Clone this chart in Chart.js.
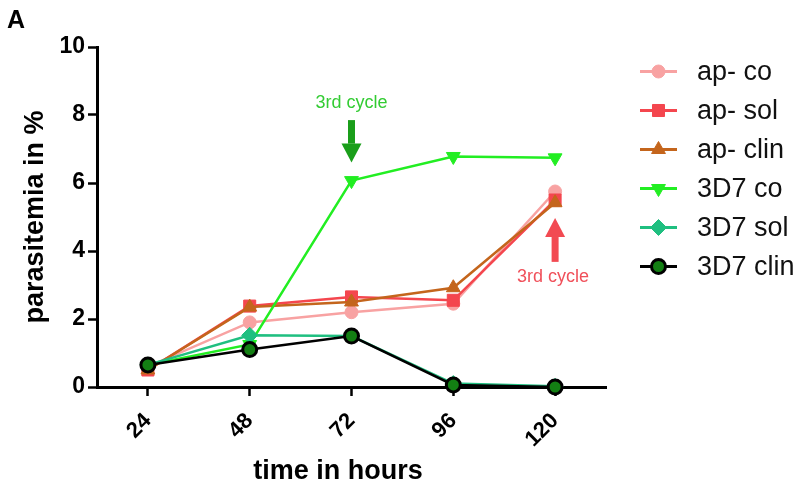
<!DOCTYPE html>
<html>
<head>
<meta charset="utf-8">
<script src="https://cdn.jsdelivr.net/npm/chart.js@4/dist/chart.umd.min.js"></script>
<style>
  html, body { margin: 0; padding: 0; background: #fff; }
  canvas { display: block; }
</style>
</head>
<body>
<canvas id="chart" width="798" height="490"></canvas>
<script>
const hours = [24, 48, 72, 96, 120];
const xTicks = [24, 48, 72, 96, 120];
const yTicks = [0, 2, 4, 6, 8, 10];

const apCo = [0.6, 1.9, 2.2, 2.45, 5.75];
const apSol = [0.5, 2.38, 2.65, 2.55, 5.5];
const apClin = [0.5, 2.35, 2.5, 2.92, 5.42];
const co3d7 = [0.65, 1.25, 6.07, 6.78, 6.74];
const sol3d7 = [0.65, 1.52, 1.5, 0.1, 0.02];
const clin3d7 = [0.65, 1.1, 1.5, 0.06, 0.0];

const seriesLabels = ['ap- co', 'ap- sol', 'ap- clin', '3D7 co', '3D7 sol', '3D7 clin'];

const FONT = '"Liberation Sans", Arial, Helvetica, sans-serif';

const pts = vals => hours.map((h, i) => ({ x: h, y: vals[i] }));

const styles = [
  { line: '#f8a2a2', fill: '#f8a2a2', edge: '#f8a2a2', shape: 'circle', r: 6.5, rot: 0, bw: 1 },
  { line: '#f4464e', fill: '#f4464e', edge: '#f4464e', shape: 'rect', r: 8.5, rot: 0, bw: 1 },
  { line: '#c4651c', fill: '#c4651c', edge: '#c4651c', shape: 'triangle', r: 8, rot: 0, bw: 1 },
  { line: '#22ee22', fill: '#22ee22', edge: '#22ee22', shape: 'triangle', r: 8, rot: 180, bw: 1 },
  { line: '#1fbf80', fill: '#1fbf80', edge: '#1fbf80', shape: 'rectRot', r: 8, rot: 0, bw: 1 },
  { line: '#000000', fill: '#137f13', edge: '#000000', shape: 'circle', r: 7, rot: 0, bw: 3 },
];

const values = [apCo, apSol, apClin, co3d7, sol3d7, clin3d7];

const datasets = values.map((v, i) => ({
  label: seriesLabels[i],
  data: pts(v),
  borderColor: styles[i].line,
  backgroundColor: styles[i].fill,
  pointBackgroundColor: styles[i].fill,
  pointBorderColor: styles[i].edge,
  pointBorderWidth: styles[i].bw,
  pointStyle: styles[i].shape,
  pointRotation: styles[i].rot,
  pointRadius: styles[i].r,
  borderWidth: 2.5,
  tension: 0,
  clip: false,
  order: i === 5 ? 0 : 6 - i,
}));

// annotation arrows, in data units
const notes = [
  { x: 72, textY: 8.35, from: 7.85, to: 6.6, color: '#33cc33', arrow: '#1a9e1a', text: '3rd cycle', dx: 0 },
  { x: 120, textY: 3.22, from: 3.68, to: 4.97, color: '#f0505a', arrow: '#f24a52', text: '3rd cycle', dx: -2 },
];

const extras = {
  id: 'extras',
  afterDraw(chart) {
    const ctx = chart.ctx;
    const xs = chart.scales.x, ys = chart.scales.y;
    ctx.save();

    // panel letter
    ctx.fillStyle = '#000';
    ctx.font = 'bold 25px ' + FONT;
    ctx.textAlign = 'left';
    ctx.textBaseline = 'alphabetic';
    ctx.fillText('A', 7, 28);

    // x title
    ctx.font = 'bold 27px ' + FONT;
    ctx.textAlign = 'center';
    ctx.textBaseline = 'middle';
    ctx.fillText('time in hours', 338, 472);

    // annotations
    for (const n of notes) {
      const px = xs.getPixelForValue(n.x);
      const y0 = ys.getPixelForValue(n.from);
      const y1 = ys.getPixelForValue(n.to);
      const dir = Math.sign(y1 - y0);
      const head = 19;
      ctx.fillStyle = n.arrow;
      ctx.fillRect(px - 3.5, Math.min(y0, y1 - dir * head), 7, Math.abs(y1 - dir * head - y0));
      ctx.beginPath();
      ctx.moveTo(px - 10, y1 - dir * head);
      ctx.lineTo(px + 10, y1 - dir * head);
      ctx.lineTo(px, y1);
      ctx.closePath();
      ctx.fill();
      ctx.fillStyle = n.color;
      ctx.font = '18px ' + FONT;
      ctx.textAlign = 'center';
      ctx.textBaseline = 'middle';
      ctx.fillText(n.text, px + n.dx, ys.getPixelForValue(n.textY));
    }

    // legend
    const lx0 = 640, lx1 = 677, tx = 697, top = 71.5, step = 39;
    seriesLabels.forEach((lab, i) => {
      const s = styles[i];
      const y = top + i * step;
      ctx.strokeStyle = s.line;
      ctx.lineWidth = 3;
      ctx.beginPath();
      ctx.moveTo(lx0, y);
      ctx.lineTo(lx1, y);
      ctx.stroke();
      ctx.fillStyle = s.fill;
      ctx.strokeStyle = s.edge;
      ctx.lineWidth = s.bw;
      Chart.helpers.drawPoint(ctx, { pointStyle: s.shape, rotation: s.rot, radius: s.r, borderWidth: s.bw }, (lx0 + lx1) / 2, y);
      ctx.fillStyle = '#111';
      ctx.font = '27px ' + FONT;
      ctx.textAlign = 'left';
      ctx.textBaseline = 'middle';
      ctx.fillText(lab, tx, y + 1);
    });

    ctx.restore();
  },
};

new Chart(document.getElementById('chart'), {
  type: 'line',
  data: { datasets },
  plugins: [extras],
  options: {
    responsive: false,
    animation: false,
    layout: { padding: { top: 47, right: 192, left: 0, bottom: 0 } },
    plugins: { legend: { display: false }, tooltip: { enabled: false } },
    scales: {
      x: {
        type: 'linear',
        min: 12,
        max: 132,
        afterBuildTicks: s => { s.ticks = xTicks.map(v => ({ value: v })); },
        afterFit: s => { s.height = 103; },
        border: { display: true, color: '#000', width: 3 },
        grid: { drawOnChartArea: false, drawTicks: true, tickLength: 9, tickColor: '#000', tickWidth: 2.5 },
        ticks: {
          color: '#000',
          font: { family: FONT, size: 22, weight: 'bold' },
          minRotation: 45,
          maxRotation: 45,
          padding: 12,
        },
      },
      y: {
        min: 0,
        max: 10,
        afterBuildTicks: s => { s.ticks = yTicks.map(v => ({ value: v })); },
        afterFit: s => { s.width = 97; },
        border: { display: true, color: '#000', width: 3 },
        grid: { drawOnChartArea: false, drawTicks: true, tickLength: 9, tickColor: '#000', tickWidth: 2.5 },
        ticks: {
          color: '#000',
          font: { family: FONT, size: 23, weight: 'bold' },
          padding: 3,
        },
        title: {
          display: true,
          text: 'parasitemia in %',
          color: '#000',
          font: { family: FONT, size: 27, weight: 'bold' },
          padding: { top: 19, bottom: 0 },
        },
      },
    },
  },
});
</script>
</body>
</html>
